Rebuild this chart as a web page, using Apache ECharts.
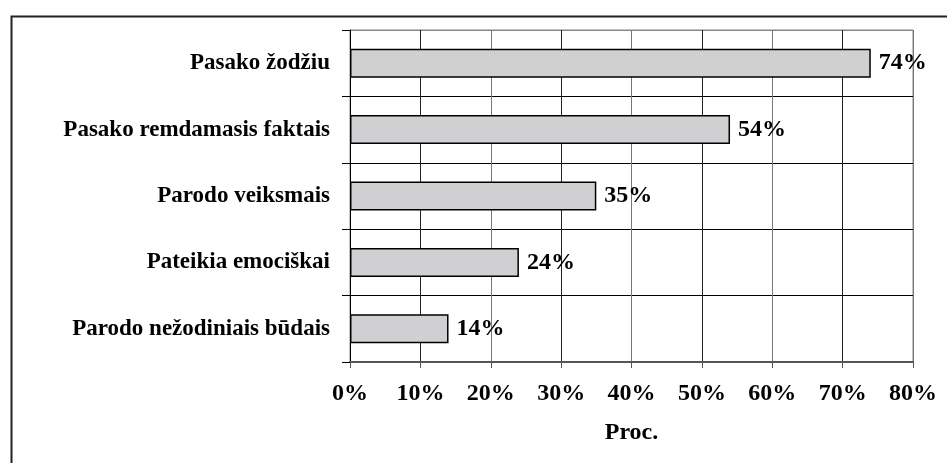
<!DOCTYPE html>
<html>
<head>
<meta charset="utf-8">
<script src="https://cdn.jsdelivr.net/npm/echarts@6/dist/echarts.min.js"></script>
<style>html,body{margin:0;padding:0;background:#fff}#c{width:947px;height:463px}</style>
</head>
<body>
<div id="c"></div>
<script>
const categories = ['Pasako žodžiu', 'Pasako remdamasis faktais', 'Parodo veiksmais', 'Pateikia emociškai', 'Parodo nežodiniais būdais'];
const values = [74, 54, 35, 24, 14];
const xTicks = { min: 0, max: 80, interval: 10 };
const axisName = 'Proc.';

const font = '"Liberation Serif", "Times New Roman", serif';
const chart = echarts.init(document.getElementById('c'), null, { renderer: 'canvas' });
chart.setOption({
  animation: false,
  backgroundColor: '#fff',
  graphic: [{
    type: 'rect', left: 9, top: 14, silent: true,
    shape: { width: 1200, height: 1200 },
    style: { fill: 'none', stroke: '#222', lineWidth: 2 }
  }],
  grid: { left: 350, right: 34, top: 30, bottom: 101, show: true, borderColor: '#888', borderWidth: 1, containLabel: false },
  xAxis: {
    type: 'value', min: xTicks.min, max: xTicks.max, interval: xTicks.interval,
    name: axisName, nameLocation: 'middle', nameGap: 59,
    nameTextStyle: { fontFamily: font, fontWeight: 'bold', fontSize: 24, color: '#000' },
    axisLine: { show: true, lineStyle: { color: '#555', width: 2 } },
    axisTick: { show: true, length: 6, lineStyle: { color: '#555', width: 1 } },
    axisLabel: { formatter: '{value}%', margin: 20, fontFamily: font, fontWeight: 'bold', fontSize: 24, color: '#000' },
    splitLine: { show: true, lineStyle: { color: ['#777', '#222'], width: 1 } }
  },
  yAxis: {
    type: 'category', inverse: true, data: categories,
    axisLine: { show: true, lineStyle: { color: '#000', width: 1 } },
    axisTick: { show: true, length: 8, lineStyle: { color: '#000', width: 1 } },
    axisLabel: { margin: 20, fontFamily: font, fontWeight: 'bold', fontSize: 23, color: '#000' },
    splitLine: { show: true, lineStyle: { color: ['#888', '#000', '#000', '#000', '#000', '#555'], width: 1 } }
  },
  series: [{
    type: 'bar', data: values, barWidth: 29,
    itemStyle: { color: '#d0d0d2', borderColor: '#000', borderWidth: 1.5 },
    label: { show: true, position: 'right', distance: 8, formatter: '{c}%', fontFamily: font, fontWeight: 'bold', fontSize: 24, color: '#000' }
  }]
});
</script>
</body>
</html>
